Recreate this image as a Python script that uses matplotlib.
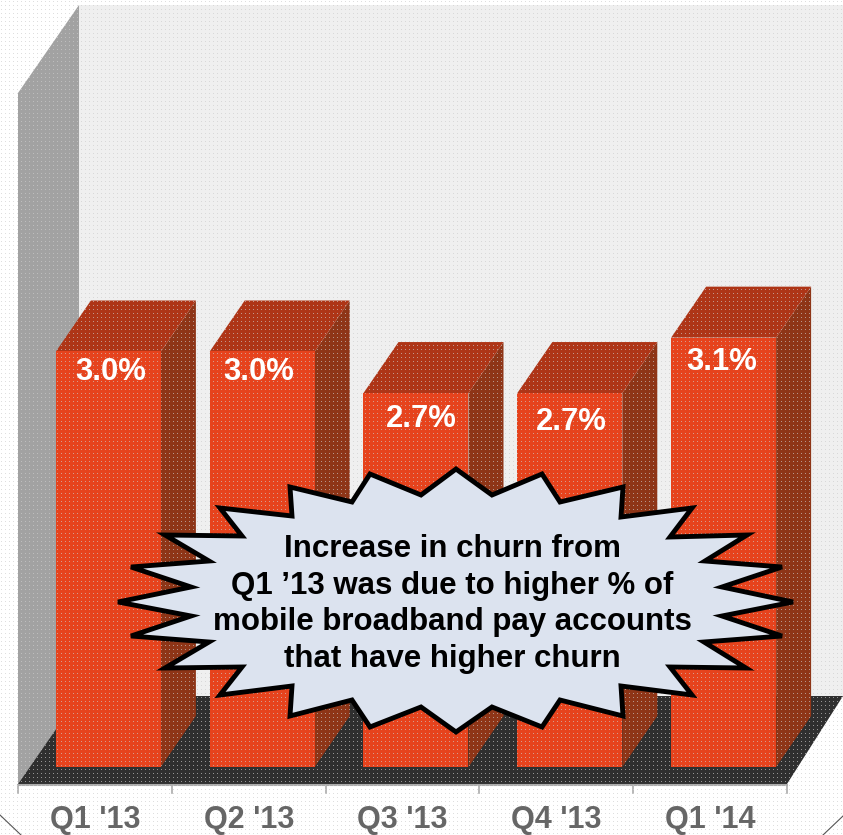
import numpy as np
import matplotlib
matplotlib.use('Agg')
import matplotlib.pyplot as plt
from matplotlib.patches import Polygon
from matplotlib.transforms import Affine2D

# chart values
quarters = ["Q1 '13", "Q2 '13", "Q3 '13", "Q4 '13", "Q1 '14"]
churn = [3.0, 3.0, 2.7, 2.7, 3.1]
churn_labels = ['3.0%', '3.0%', '2.7%', '2.7%', '3.1%']
callout_text = "Increase in churn from\nQ1 \u201913 was due to higher % of\nmobile broadband pay accounts\nthat have higher churn"

# outline of the callout burst, in image pixels
burst_x = [118, 191, 131, 209, 165, 242, 220, 292, 290, 352, 370, 421, 456, 492, 542, 560, 623, 621, 692, 670,
           747, 705, 782, 722, 793, 722, 782, 704, 746, 670, 692, 621, 623, 560, 542, 492, 456, 421, 370, 352,
           290, 292, 220, 242, 165, 209, 131, 191]
burst_y = [602, 587, 567, 561, 535, 536, 508, 516, 487, 502, 474, 495, 469, 495, 474, 502, 487, 517, 508, 537,
           535, 561, 567, 587, 602, 616, 636, 642, 668, 667, 695, 686, 716, 700, 727, 707, 732, 707, 727, 700,
           716, 686, 695, 667, 668, 642, 636, 616]

W, H = 843, 835
FRONT = '#E6431D'
SIDE = '#8E3517'
TOP = '#AE3517'
FONT = 'Liberation Sans'

# pixel sizes of the fake 3D box
slot = 153.8      # px per category
per_unit = 138.5  # px per 1% churn
base_y = 767
left_x = 18
bar_w = 105 / slot
dx = 35 / slot
dy = 51 / per_unit
shift = 13.5 / slot

fig = plt.figure(figsize=(W / 100, H / 100), dpi=100)
ax = fig.add_axes([0, 0, 1, 1])
ax.axis('off')
fig.patch.set_facecolor('white')

# transform for things placed in image pixels
px = Affine2D().scale(1 / W, -1 / H).translate(0, 1) + fig.transFigure

# back wall, side wall, floor
ax.add_patch(Polygon([(79, 5), (843, 5), (843, 697), (79, 697)], fc='#EFEFEF', ec='none', transform=px, zorder=1))
ax.add_patch(Polygon([(18, 93), (79, 5), (79, 697), (18, 784)], fc='#A2A2A2', ec='none', transform=px, zorder=2))
ax.add_patch(Polygon([(18, 784), (79, 696), (843, 696), (787, 784)], fc='#2F2F2F', ec='none', transform=px, zorder=2))

# axis line and ticks
ax.plot([18, 787], [785, 785], color='#ABABAB', lw=1.5, transform=px, zorder=3)
for i in range(len(quarters) + 1):
    x = 18 + i * slot
    ax.plot([x, x], [785, 793], color='#ABABAB', lw=1.2, transform=px, zorder=3)

# bars
for i, v in enumerate(churn):
    x0 = i + shift - bar_w / 2
    x1 = i + shift + bar_w / 2
    ax.add_patch(Polygon([(x1, 0), (x1 + dx, dy), (x1 + dx, v + dy), (x1, v)], fc=SIDE, ec='none', zorder=4))
    ax.add_patch(Polygon([(x0, v), (x1, v), (x1 + dx, v + dy), (x0 + dx, v + dy)], fc=TOP, ec='none', zorder=4))
    ax.bar(i + shift, v, width=bar_w, color=FRONT, zorder=5)

xlim = (-0.5 - left_x / slot, -0.5 + (W - left_x) / slot)
ylim = (-(H - base_y) / per_unit, base_y / per_unit)

# halftone dots from the original screenshot
yy, xx = np.mgrid[0:H, 0:W]
dots = np.zeros((H, W, 4))
dots[..., :3] = 0.8
dots[..., 3] = ((xx % 4 == 1) & (yy % 4 == 1)) * 0.65
ax.imshow(dots, extent=(xlim[0], xlim[1], ylim[0], ylim[1]), origin='upper', aspect='auto',
          interpolation='nearest', zorder=6)
ax.set_xlim(xlim)
ax.set_ylim(ylim)

# slide border corners
ax.plot([0, 21], [815, 835], color='#555555', lw=0.8, transform=px, zorder=7)
ax.plot([823, 843], [835, 816], color='#555555', lw=0.8, transform=px, zorder=7)

# text labels
label_pos = [(111, 372), (259, 372), (421, 419), (571, 422), (722, 362)]
for (x, y), s in zip(label_pos, churn_labels):
    ax.text(x, y, s, transform=px, color='white', fontsize=22.3, fontweight='bold', family=FONT,
            ha='center', va='center', zorder=8)
for i, q in enumerate(quarters):
    ax.text(18 + (i + 0.5) * slot, 820, q, transform=px, color='#666666', fontsize=22, fontweight='bold',
            family=FONT, ha='center', va='center', zorder=8)

# callout
ax.add_patch(Polygon(list(zip(burst_x, burst_y)), closed=True, fc='#DCE3EF', ec='black', lw=3.5, joinstyle='miter',
                     transform=px, zorder=9))
ax.text(452, 604, callout_text, transform=px, color='black', fontsize=22.5, fontweight='bold', family=FONT,
        ha='center', va='center', linespacing=1.28, zorder=10)

plt.savefig('out.png', dpi=100)
